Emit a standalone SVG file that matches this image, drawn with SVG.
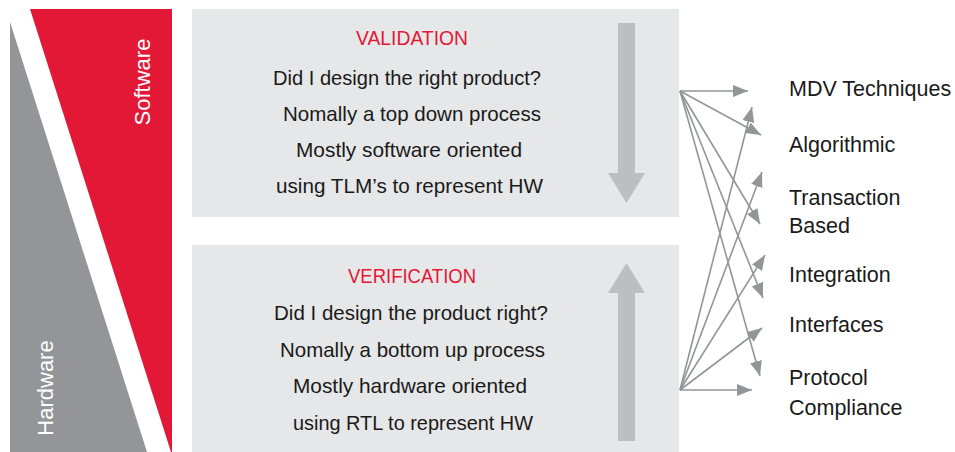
<svg xmlns="http://www.w3.org/2000/svg" width="955" height="452" viewBox="0 0 955 452">
  <style>
    .panel { fill: #e6e7e8; }
    .bigarrow { fill: #bcbec0; }
    .title { font-family: "Liberation Sans", Arial, sans-serif; font-size: 21px; fill: #e31837; text-anchor: middle; }
    .body { font-family: "Liberation Sans", Arial, sans-serif; font-size: 21px; fill: #1a1a1a; text-anchor: middle; }
    .label { font-family: "Liberation Sans", Arial, sans-serif; font-size: 21.5px; fill: #1a1a1a; }
    .side { font-family: "Liberation Sans", Arial, sans-serif; font-size: 22px; fill: #ffffff; text-anchor: middle; }
    .link { stroke: #939598; stroke-width: 1.6; fill: none; marker-end: url(#head); }
  </style>
  <defs>
    <marker id="head" markerUnits="userSpaceOnUse" markerWidth="16" markerHeight="12" refX="15" refY="6" orient="auto">
      <path d="M0,0 L15,6 L0,12 Z" fill="#939598"/>
    </marker>
  </defs>

  <rect width="955" height="452" fill="#ffffff"/>

  <!-- software / hardware wedges -->
  <g id="software">
    <polygon points="30,9 172,9 172,452 171,452" fill="#e31837"/>
    <text class="side" transform="translate(150,82) rotate(-90)">Software</text>
  </g>
  <g id="hardware">
    <polygon points="10,22 147,452 10,452" fill="#939598"/>
    <text class="side" transform="translate(53,388) rotate(-90)">Hardware</text>
  </g>

  <!-- validation panel -->
  <g id="validation">
    <rect class="panel" x="192" y="9" width="487" height="208"/>
    <polygon class="bigarrow" points="618,23 635,23 635,173 645,173 626.5,203 608,173 618,173"/>
    <text class="title" x="412" y="45" textLength="112" lengthAdjust="spacingAndGlyphs">VALIDATION</text>
    <text class="body" x="407" y="85" textLength="268" lengthAdjust="spacingAndGlyphs">Did I design the right product?</text>
    <text class="body" x="412" y="121" textLength="258" lengthAdjust="spacingAndGlyphs">Nomally a top down process</text>
    <text class="body" x="409" y="157" textLength="226" lengthAdjust="spacingAndGlyphs">Mostly software oriented</text>
    <text class="body" x="409.5" y="193" textLength="267" lengthAdjust="spacingAndGlyphs">using TLM’s to represent HW</text>
  </g>

  <!-- verification panel -->
  <g id="verification">
    <rect class="panel" x="192" y="245" width="487" height="207"/>
    <polygon class="bigarrow" points="618,441 635,441 635,293 645,293 626.5,263 608,293 618,293"/>
    <text class="title" x="412" y="283" textLength="128" lengthAdjust="spacingAndGlyphs">VERIFICATION</text>
    <text class="body" x="411" y="320" textLength="274" lengthAdjust="spacingAndGlyphs">Did I design the product right?</text>
    <text class="body" x="412.5" y="357" textLength="265" lengthAdjust="spacingAndGlyphs">Nomally a bottom up process</text>
    <text class="body" x="410" y="393" textLength="234" lengthAdjust="spacingAndGlyphs">Mostly hardware oriented</text>
    <text class="body" x="413" y="430" textLength="240" lengthAdjust="spacingAndGlyphs">using RTL to represent HW</text>
  </g>

  <!-- technique labels -->
  <g id="mdv"><text class="label" x="789" y="96">MDV Techniques</text></g>
  <g id="algorithmic"><text class="label" x="789" y="152">Algorithmic</text></g>
  <g id="transaction"><text class="label" x="789" y="205">Transaction</text><text class="label" x="789" y="233">Based</text></g>
  <g id="integration"><text class="label" x="789" y="282">Integration</text></g>
  <g id="interfaces"><text class="label" x="789" y="332">Interfaces</text></g>
  <g id="protocol"><text class="label" x="789" y="385">Protocol</text><text class="label" x="789" y="415">Compliance</text></g>

  <!-- connectors -->
  <g id="connectors">
    <line class="link" x1="680" y1="91" x2="748" y2="91"/>
    <line class="link" x1="680" y1="91" x2="761" y2="135"/>
    <line class="link" x1="680" y1="91" x2="760" y2="224"/>
    <line class="link" x1="680" y1="91" x2="763" y2="298"/>
    <line class="link" x1="680" y1="91" x2="760" y2="376"/>
    <line class="link" x1="680" y1="390" x2="752" y2="107"/>
    <line class="link" x1="680" y1="390" x2="762" y2="172"/>
    <line class="link" x1="680" y1="390" x2="765" y2="255"/>
    <line class="link" x1="680" y1="390" x2="762" y2="328"/>
    <line class="link" x1="680" y1="390" x2="752" y2="390"/>
  </g>
</svg>
